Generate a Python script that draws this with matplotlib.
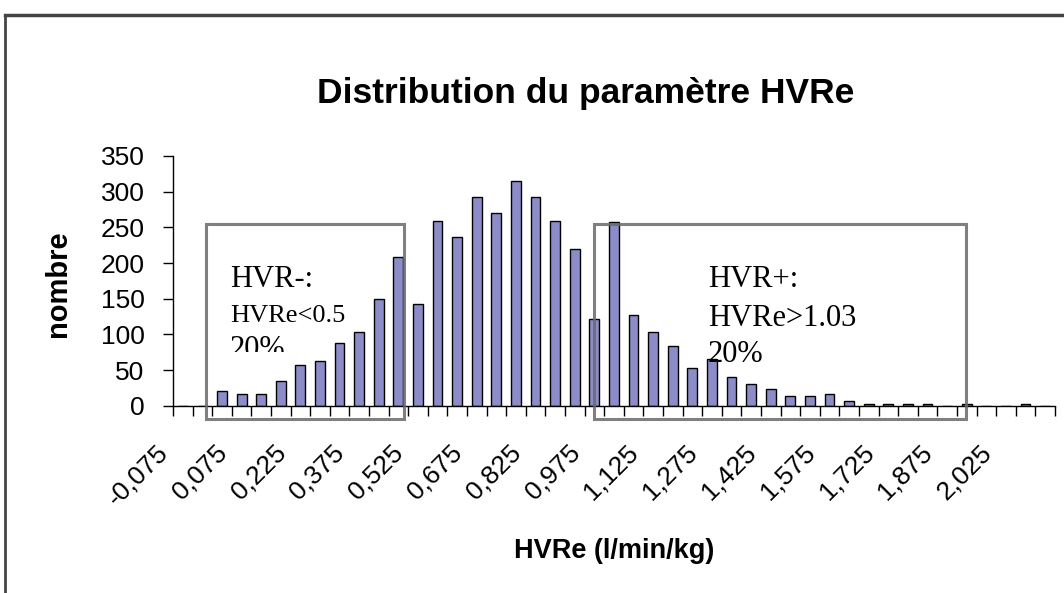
import numpy as np
import matplotlib
matplotlib.use("Agg")
import matplotlib.pyplot as plt
from matplotlib.patches import Rectangle
from matplotlib.lines import Line2D
from matplotlib.transforms import ScaledTranslation, Bbox, TransformedBbox

plt.rcParams['font.family'] = ['Liberation Sans', 'DejaVu Sans']

# Histogram counts per class (class width 0,05 starting at -0,075)
counts = [0, 0, 20, 17, 17, 35, 57, 63, 88, 104, 149, 208, 143, 259, 236,
          292, 270, 315, 292, 259, 220, 121, 257, 127, 104, 84, 53, 65, 40,
          30, 23, 14, 14, 17, 6, 2, 2, 2, 2, 0, 2, 0, 0, 2, 0]
# one label every third class
tick_labels = ["-0,075", "0,075", "0,225", "0,375", "0,525", "0,675", "0,825",
               "0,975", "1,125", "1,275", "1,425", "1,575", "1,725", "1,875",
               "2,025"]
label_step = 3

title = "Distribution du paramètre HVRe"
xlabel = "HVRe (l/min/kg)"
ylabel = "nombre"

bar_color = '#8C8CC8'

fig = plt.figure(figsize=(10.64, 5.93), dpi=100)
ax = fig.add_axes([0.1626, 0.3158, 0.8289, 0.4212])

x = np.arange(len(counts))
ax.bar(x, counts, width=0.5, color=bar_color, edgecolor='black', linewidth=1.0, zorder=2)

ax.set_xlim(-0.5, len(counts) - 0.5)
ax.set_ylim(0, 350)
ax.set_yticks(np.arange(0, 351, 50))

for s in ['top', 'right']:
    ax.spines[s].set_visible(False)
for s in ['left', 'bottom']:
    ax.spines[s].set_linewidth(1.0)
    ax.spines[s].set_color('black')

# major ticks on class boundaries, labels on minor ticks
ax.set_xticks(np.arange(-0.5, len(counts), 1.0))
ax.set_xticklabels([])
ax.set_xticks(np.arange(0, len(tick_labels) * label_step, label_step), minor=True)
ax.set_xticklabels(tick_labels, minor=True, rotation=45, ha='right', va='top',
                   fontsize=19)
ax.tick_params(axis='x', which='major', direction='out', length=7.5, width=1)
ax.tick_params(axis='x', which='minor', length=0, pad=25)
ax.tick_params(axis='y', direction='out', length=7.5, width=1, pad=13, labelsize=19)

shift = ScaledTranslation(-10 / 100, 0, fig.dpi_scale_trans)
for lab in ax.get_xticklabels(minor=True):
    lab.set_transform(lab.get_transform() + shift)

ax.set_xlabel(xlabel, fontsize=19.5, fontweight='bold')
ax.xaxis.set_label_coords(0.5, -0.53)
ax.set_ylabel(ylabel, fontsize=21, fontweight='bold')
ax.yaxis.set_label_coords(-0.1145, 0.49)

fig.text(0.55, 0.842, title, fontsize=25.5, fontweight='bold', ha='center', va='center')

# annotation boxes
box_kw = dict(fill=False, edgecolor='#6a6a6a', linewidth=2.2, alpha=0.85,
              clip_on=False, zorder=4)
ax.add_patch(Rectangle((1.18, -18.7), 11.29 - 1.18, 254.6 + 18.7, **box_kw))
ax.add_patch(Rectangle((20.98, -18.7), 39.96 - 20.98, 254.6 + 18.7, **box_kw))

serif = ['Liberation Serif', 'DejaVu Serif']
clip = TransformedBbox(Bbox([[1.2, 75.6], [11.3, 300]]), ax.transData)
left_lines = [("HVR-:", 165.8, 22), ("HVRe<0.5", 117.9, 19), ("20%", 68.6, 22)]
for txt, yy, fs in left_lines:
    t = ax.text(2.41, yy, txt, family=serif, fontsize=fs, va='baseline',
                ha='left', zorder=5, clip_on=True)
    t.set_clip_box(clip)
right_lines = [("HVR+:", 165.8, 22), ("HVRe>1.03", 112.3, 22), ("20%", 61.6, 22)]
for txt, yy, fs in right_lines:
    ax.text(26.8, yy, txt, family=serif, fontsize=fs, va='baseline', ha='left',
            zorder=5)

# chart area border (cut on the right and bottom)
fig.add_artist(Line2D([5 / 1064, 1.0], [1 - 15 / 593, 1 - 15 / 593],
                      transform=fig.transFigure, color='#444444', linewidth=2.5))
fig.add_artist(Line2D([5 / 1064, 5 / 1064], [0.0, 1 - 15 / 593],
                      transform=fig.transFigure, color='#444444', linewidth=2.0))

fig.savefig("out.png", dpi=100)
